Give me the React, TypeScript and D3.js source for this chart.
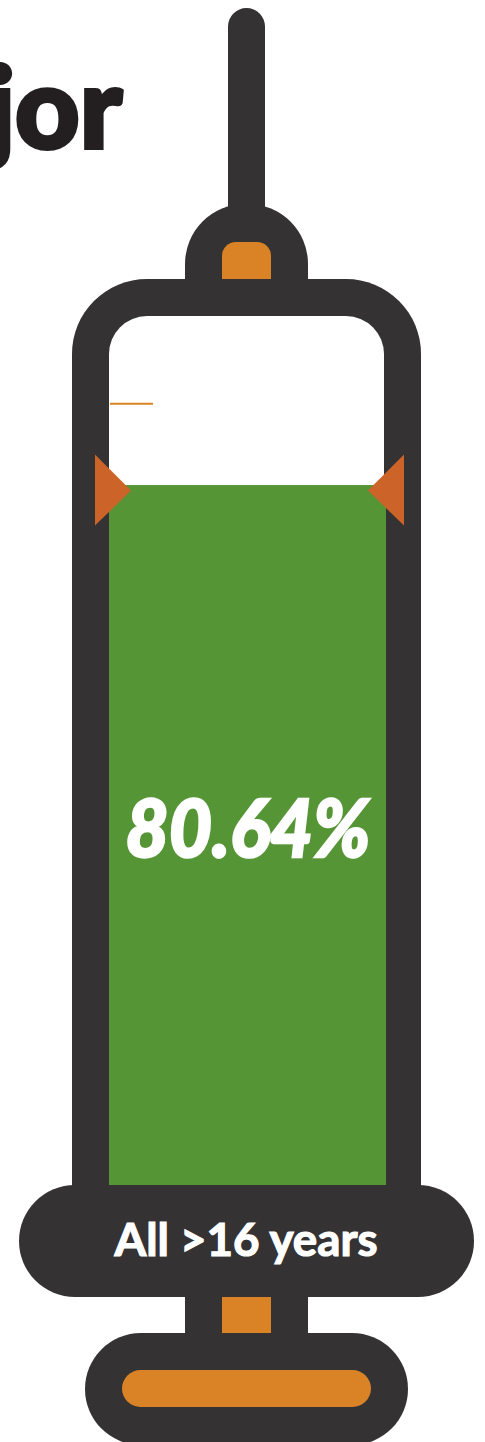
import * as d3 from "d3";

const coverageValue = 80.64;
const markerValue = 80;
const targetValue = 90;
const groupLabel = "All >16 years";
const titleFragment = "jor";

const width = 485;
const height = 1442;

const DARK = "#343233";
const ORANGE = "#d98326";
const MARKER = "#cc6328";
const GREEN = "#559535";

function roundedTop(x0: number, x1: number, top: number, bottom: number, r: number) {
  const p = d3.path();
  p.moveTo(x0, bottom);
  p.lineTo(x0, top + r);
  p.arcTo(x0, top, x0 + r, top, r);
  p.lineTo(x1 - r, top);
  p.arcTo(x1, top, x1, top + r, r);
  p.lineTo(x1, bottom);
  p.closePath();
  return p.toString();
}

export default function App() {
  // barrel interior is the 0-100% scale
  const yScale = d3.scaleLinear().domain([0, 100]).range([1185, 317]);
  const fillTop = yScale(coverageValue);
  const markerY = yScale(markerValue);
  const targetY = yScale(targetValue);

  const triangle = (baseX: number, tipX: number) => {
    const p = d3.path();
    p.moveTo(baseX, markerY - 36);
    p.lineTo(tipX, markerY);
    p.lineTo(baseX, markerY + 35);
    p.closePath();
    return p.toString();
  };

  return (
    <svg
      width={width}
      height={height}
      viewBox={`0 0 ${width} ${height}`}
      style={{ position: "absolute", left: 0, top: 0, background: "#fff" }}
    >
      {/* Title cut by the crop */}
      <text
        x={122}
        y={148}
        textAnchor="end"
        fontFamily="Lato"
        fontWeight={900}
        fontSize={112}
        fill="#231f20"
        stroke="#231f20"
        strokeWidth={4}
      >
        {titleFragment}
      </text>

      {/* Needle and hub */}
      <path d={roundedTop(228, 265, 8, 230, 18.5)} fill={DARK} />
      <path d={roundedTop(185, 308, 204, 290, 60)} fill={DARK} />
      <path d={roundedTop(222, 271, 242, 279, 14)} fill={ORANGE} />

      {/* Barrel */}
      <path d={roundedTop(72, 421, 279, 1200, 75)} fill={DARK} />
      <path d={roundedTop(109, 384, 316, 1190, 38)} fill="#fff" />
      <rect x={109} y={fillTop} width={277} height={yScale(0) - fillTop} fill={GREEN} />
      <line x1={110} x2={153} y1={targetY} y2={targetY} stroke={ORANGE} strokeWidth={2} />
      <path d={triangle(95, 131)} fill={MARKER} />
      <path d={triangle(404, 368)} fill={MARKER} />

      <text
        x={248}
        y={857}
        textAnchor="middle"
        textLength={245}
        lengthAdjust="spacingAndGlyphs"
        fontFamily="Lato"
        fontStyle="italic"
        fontWeight={900}
        fontSize={80}
        fill="#fff"
        stroke="#fff"
        strokeWidth={2.5}
      >
        {`${coverageValue}%`}
      </text>

      {/* Flange, stem, plunger */}
      <rect x={19} y={1185} width={455} height={112} rx={56} fill={DARK} />
      <rect x={185} y={1290} width={123} height={50} fill={DARK} />
      <rect x={222} y={1297} width={49} height={36} fill={ORANGE} />
      <rect x={85} y={1333} width={323} height={112} rx={56} fill={DARK} />
      <rect x={122} y={1370} width={249} height={37} rx={18.5} fill={ORANGE} />

      <text
        x={246}
        y={1256}
        textAnchor="middle"
        textLength={263}
        lengthAdjust="spacingAndGlyphs"
        fontFamily="Lato"
        fontWeight={700}
        fontSize={45}
        fill="#fff"
        stroke="#fff"
        strokeWidth={1.2}
      >
        {groupLabel}
      </text>
    </svg>
  );
}
